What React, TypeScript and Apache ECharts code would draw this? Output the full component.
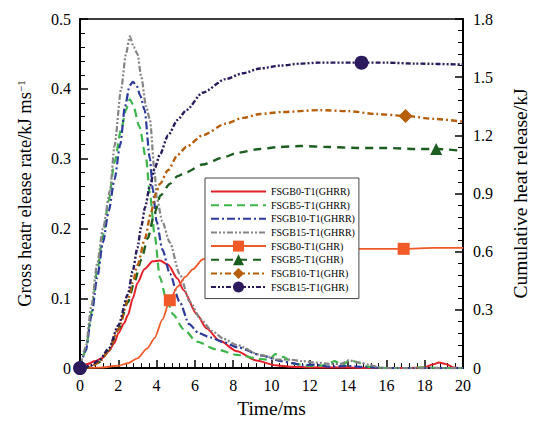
import React, { useEffect, useRef } from "react";
import * as echarts from "echarts";

const FONT = '"Liberation Serif", "Times New Roman", serif';

// X axis (Time/ms)
const xTicks = [0, 2, 4, 6, 8, 10, 12, 14, 16, 18, 20];

// Gross heat release rate (left axis, kJ/ms)
const tB0R = [0, 0.4, 0.8, 1.2, 1.5, 1.8, 2.0, 2.3, 2.5, 2.76, 3.0, 3.37, 3.8, 4.17, 4.6, 5.1, 5.4, 6.1, 6.6, 7.3, 8.2, 9.2, 10.2, 11, 12, 13, 14, 15, 16, 17, 18, 18.4, 18.75, 19.1, 19.5, 20];
const vB0R = [0, 0.006, 0.01, 0.015, 0.024, 0.036, 0.05, 0.064, 0.076, 0.1, 0.122, 0.142, 0.153, 0.154, 0.148, 0.128, 0.112, 0.077, 0.057, 0.039, 0.024, 0.011, 0.004, 0.002, 0.001, 0.001, 0.001, 0, 0, 0, 0.001, 0.005, 0.008, 0.006, 0.001, 0];

const tB5R = [0, 0.3, 0.6, 0.9, 1.2, 1.5, 1.8, 2.15, 2.4, 2.6, 2.76, 3.1, 3.45, 3.65, 3.9, 4.17, 4.5, 4.86, 5.4, 6.1, 7.1, 8.2, 9.4, 9.9, 10.2, 10.6, 11.2, 12, 12.8, 13.3, 13.7, 14.1, 14.5, 15, 16, 17, 18, 19, 20];
const vB5R = [0, 0.025, 0.08, 0.14, 0.19, 0.24, 0.295, 0.342, 0.37, 0.385, 0.378, 0.346, 0.3, 0.25, 0.19, 0.13, 0.1, 0.077, 0.056, 0.038, 0.027, 0.019, 0.013, 0.012, 0.02, 0.016, 0.006, 0.003, 0.004, 0.01, 0.004, 0.012, 0.008, 0.002, 0, 0, 0.001, 0, 0];

const tB10R = [0, 0.3, 0.6, 0.9, 1.2, 1.5, 1.8, 2.1, 2.35, 2.6, 2.76, 2.95, 3.15, 3.37, 3.65, 3.8, 4.0, 4.3, 4.7, 5.2, 5.7, 6.2, 6.8, 7.5, 8.2, 9.5, 10.5, 11.1, 11.6, 12.3, 13, 14, 15, 16, 18, 20];
const vB10R = [0, 0.025, 0.075, 0.13, 0.18, 0.225, 0.27, 0.32, 0.375, 0.405, 0.41, 0.405, 0.39, 0.37, 0.3, 0.256, 0.21, 0.17, 0.135, 0.095, 0.063, 0.05, 0.044, 0.037, 0.03, 0.018, 0.01, 0.007, 0.004, 0.005, 0.002, 0.003, 0.001, 0, 0, 0];

const tB15R = [0, 0.3, 0.6, 0.9, 1.2, 1.57, 1.8, 2.15, 2.4, 2.6, 2.8, 3.0, 3.2, 3.45, 3.65, 3.9, 4.0, 4.3, 4.69, 5.2, 5.73, 6.3, 6.9, 7.5, 8.2, 9.4, 10.4, 11, 11.6, 12.3, 13, 13.6, 14.06, 14.6, 15.1, 15.6, 16, 18, 20];
const vB15R = [0, 0.03, 0.09, 0.15, 0.2, 0.254, 0.318, 0.4, 0.45, 0.475, 0.46, 0.45, 0.417, 0.375, 0.356, 0.28, 0.245, 0.21, 0.18, 0.135, 0.095, 0.07, 0.053, 0.042, 0.033, 0.019, 0.012, 0.012, 0.01, 0.008, 0.006, 0.006, 0.011, 0.008, 0.005, 0.001, 0, 0, 0];

// Cumulative heat release (right axis, kJ)
const tB0H = [0, 1, 2, 2.5, 3.0, 3.5, 3.9, 4.3, 4.69, 5.1, 5.5, 5.9, 6.4, 7.0, 7.6, 8.5, 10, 12, 14, 16, 16.9, 18.5, 20];
const vB0H = [0, 0.002, 0.012, 0.025, 0.05, 0.1, 0.155, 0.25, 0.35, 0.42, 0.47, 0.51, 0.56, 0.59, 0.605, 0.615, 0.62, 0.62, 0.615, 0.615, 0.615, 0.62, 0.62];
const mB0H = [8, 20];

const tB5H = [0, 0.5, 1.0, 1.5, 2.0, 2.5, 2.86, 3.2, 3.54, 3.9, 4.2, 4.69, 5.1, 5.55, 6.4, 7.6, 8.2, 9.4, 10.4, 11.5, 13, 14.5, 16, 17.5, 18.6, 20];
const vB5H = [0, 0.005, 0.03, 0.09, 0.2, 0.34, 0.45, 0.56, 0.67, 0.8, 0.89, 0.95, 0.99, 1.01, 1.05, 1.09, 1.11, 1.13, 1.14, 1.145, 1.14, 1.135, 1.135, 1.13, 1.13, 1.12];
const mB5H = [24];

const tB10H = [0, 0.5, 1.0, 1.5, 2.0, 2.5, 2.75, 3.0, 3.4, 3.7, 3.96, 4.17, 4.6, 5.1, 5.55, 6.4, 7.6, 8.5, 9.4, 10.5, 12.5, 14, 15.5, 17, 18.5, 20];
const vB10H = [0, 0.005, 0.03, 0.09, 0.2, 0.35, 0.44, 0.53, 0.67, 0.8, 0.9, 0.95, 1.02, 1.1, 1.14, 1.2, 1.26, 1.29, 1.31, 1.32, 1.33, 1.325, 1.31, 1.3, 1.285, 1.27];
const mB10H = [23];

const tB15H = [0, 0.5, 1.0, 1.5, 2.0, 2.5, 2.75, 3.0, 3.2, 3.4, 3.65, 3.9, 4.17, 4.6, 5.1, 5.55, 6.4, 7.6, 8.5, 9.4, 10.5, 11.5, 12.5, 14.7, 16, 17.5, 20];
const vB15H = [0, 0.01, 0.04, 0.1, 0.22, 0.38, 0.5, 0.62, 0.73, 0.83, 0.94, 1.03, 1.1, 1.2, 1.28, 1.33, 1.42, 1.49, 1.52, 1.545, 1.56, 1.57, 1.575, 1.575, 1.575, 1.57, 1.565];
const mB15H = [0, 23];

const names = [
  "FSGB0-T1(GHRR)",
  "FSGB5-T1(GHRR)",
  "FSGB10-T1(GHRR)",
  "FSGB15-T1(GHRR)",
  "FSGB0-T1(GHR)",
  "FSGB5-T1(GHR)",
  "FSGB10-T1(GHR)",
  "FSGB15-T1(GHR)",
];

function pairs(t: number[], v: number[]) {
  return t.map((x, i) => [x, v[i]]);
}

function rateSeries(name: string, t: number[], v: number[], color: string, type: any, width: number) {
  return {
    name,
    type: "line",
    yAxisIndex: 0,
    data: pairs(t, v),
    symbol: "none",
    showSymbol: false,
    smooth: 0.25,
    smoothMonotone: "x",
    lineStyle: { color, width, type },
    itemStyle: { color },
  };
}

function cumSeries(
  name: string,
  t: number[],
  v: number[],
  color: string,
  type: any,
  width: number,
  symbol: string,
  size: number,
  marks: number[]
) {
  return {
    name,
    type: "line",
    yAxisIndex: 1,
    data: pairs(t, v),
    symbol,
    showSymbol: true,
    showAllSymbol: true,
    symbolSize: (_v: any, p: any) => (marks.indexOf(p.dataIndex) >= 0 ? size : 0),
    smooth: 0.25,
    smoothMonotone: "x",
    lineStyle: { color, width, type },
    itemStyle: { color },
  };
}

export default function App() {
  const ref = useRef<HTMLDivElement>(null);

  useEffect(() => {
    if (!ref.current) return;
    const chart = echarts.init(ref.current, undefined, { renderer: "svg" });

    const series = [
      rateSeries(names[0], tB0R, vB0R, "#e3202a", "solid", 2),
      rateSeries(names[1], tB5R, vB5R, "#3cb54a", [8, 5], 2.2),
      rateSeries(names[2], tB10R, vB10R, "#2b3a9c", [8, 3, 2, 3], 2.2),
      rateSeries(names[3], tB15R, vB15R, "#848484", [6, 2, 2, 2, 2, 2], 2.2),
      cumSeries(names[4], tB0H, vB0H, "#f05a28", "solid", 1.8, "rect", 12, mB0H),
      cumSeries(names[5], tB5H, vB5H, "#1b5e20", [8, 6], 2.4, "triangle", 12, mB5H),
      cumSeries(names[6], tB10H, vB10H, "#b65e0a", [6, 3, 2, 3], 2.4, "diamond", 14, mB10H),
      cumSeries(names[7], tB15H, vB15H, "#2b1b5c", [5, 2, 2, 2, 2, 2], 2.4, "circle", 14, mB15H),
    ];

    const axisLabel = { color: "#000", fontFamily: FONT, fontSize: 16 };

    chart.setOption({
      animation: false,
      backgroundColor: "#fff",
      textStyle: { fontFamily: FONT },
      grid: {
        left: 80,
        right: 74,
        top: 19,
        bottom: 53,
        show: true,
        borderColor: "#000",
        borderWidth: 1.5,
        backgroundColor: "transparent",
      },
      legend: {
        orient: "vertical",
        left: 205,
        top: 178,
        padding: [8, 4, 6, 5],
        itemWidth: 55,
        itemHeight: 13.7,
        itemGap: 2.7,
        borderColor: "#444",
        borderWidth: 1,
        backgroundColor: "#fff",
        textStyle: { fontFamily: FONT, fontSize: 10, color: "#000" },
        data: names.map((n, i) =>
          i < 4 ? { name: n, itemStyle: { opacity: 0 } } : { name: n }
        ),
      },
      xAxis: {
        type: "value",
        min: xTicks[0],
        max: xTicks[xTicks.length - 1],
        interval: 2,
        name: "Time/ms",
        nameLocation: "middle",
        nameGap: 28,
        nameTextStyle: { color: "#000", fontFamily: FONT, fontSize: 19.5 },
        axisLine: { show: true, onZero: false, lineStyle: { color: "#000", width: 2 } },
        axisTick: { show: true, inside: true, length: 8, lineStyle: { color: "#000", width: 1.5 } },
        minorTick: { show: true, splitNumber: 5, length: 5, lineStyle: { color: "#000", width: 1 } },
        splitLine: { show: false },
        axisLabel: { ...axisLabel, margin: 9 },
      },
      yAxis: [
        {
          type: "value",
          min: 0,
          max: 0.5,
          interval: 0.1,
          position: "left",
          name: "Gross heatr elease rate/kJ ms{sup|−1}",
          nameLocation: "middle",
          nameRotate: 90,
          nameGap: 46,
          nameTextStyle: {
            color: "#000",
            fontFamily: FONT,
            fontSize: 18.5,
            rich: {
              sup: { fontFamily: FONT, fontSize: 11, color: "#000", verticalAlign: "top", padding: [0, 0, 8, 0] },
            },
          },
          axisLine: { show: true, onZero: false, lineStyle: { color: "#000", width: 2 } },
          axisTick: { show: true, inside: true, length: 8, lineStyle: { color: "#000", width: 1.5 } },
          minorTick: { show: true, splitNumber: 5, length: 5, lineStyle: { color: "#000", width: 1 } },
          splitLine: { show: false },
          axisLabel: {
            ...axisLabel,
            margin: 9,
            formatter: (v: number) => (v === 0 ? "0" : v.toFixed(1)),
          },
        },
        {
          type: "value",
          min: 0,
          max: 1.8,
          interval: 0.3,
          position: "right",
          name: "Cumulative heat release/kJ",
          nameLocation: "middle",
          nameRotate: 90,
          nameGap: 47,
          nameTextStyle: { color: "#000", fontFamily: FONT, fontSize: 19.5 },
          axisLine: { show: true, onZero: false, lineStyle: { color: "#000", width: 2 } },
          axisTick: { show: true, inside: true, length: 8, lineStyle: { color: "#000", width: 1.5 } },
          minorTick: { show: true, splitNumber: 5, length: 5, lineStyle: { color: "#000", width: 1 } },
          splitLine: { show: false },
          axisLabel: {
            ...axisLabel,
            margin: 10,
            formatter: (v: number) => (v === 0 ? "0" : v.toFixed(1)),
          },
        },
      ],
      series,
    });

    return () => chart.dispose();
  }, []);

  return (
    <div
      ref={ref}
      style={{ position: "fixed", left: 0, top: 0, width: 538, height: 423, background: "#fff" }}
    />
  );
}
